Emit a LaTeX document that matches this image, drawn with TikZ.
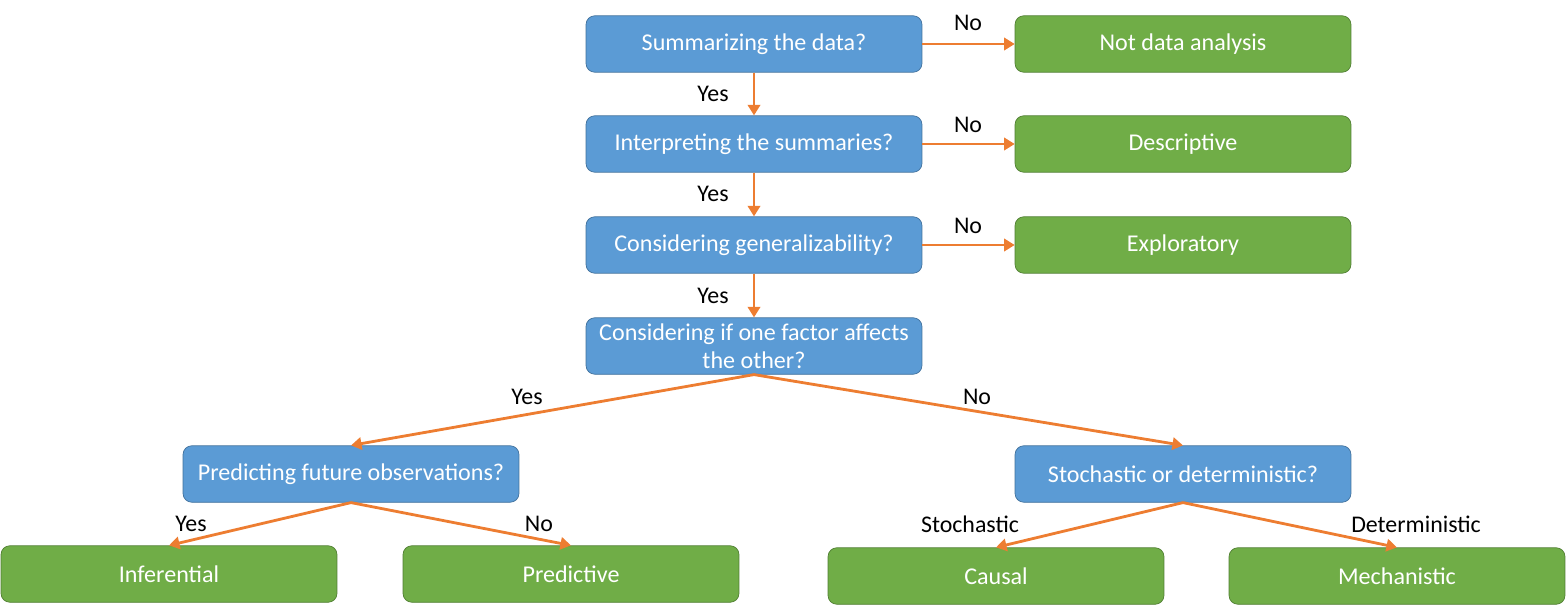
\documentclass[tikz,border=0pt]{standalone}
\usepackage{fontspec}
\setmainfont{Carlito}
\definecolor{qblue}{HTML}{5B9BD5}
\definecolor{qedge}{HTML}{41719C}
\definecolor{agreen}{HTML}{70AD47}
\definecolor{aedge}{HTML}{507E32}
\definecolor{flow}{HTML}{ED7D31}
\usetikzlibrary{positioning, arrows.meta}

\begin{document}
\begin{tikzpicture}[
  x=0.02cm, y=-0.02cm,
  question/.style={draw=qedge, fill=qblue, rounded corners=5pt,
                   minimum width=6.72cm, minimum height=1.13cm, align=center,
                   text=white, font=\fontsize{13.7}{16}\selectfont, inner sep=2pt},
  answer/.style={question, draw=aedge, fill=agreen},
  blabel/.style={font=\fontsize{13.6}{15}\selectfont, text=black, inner sep=0pt},
  link/.style={draw=flow, line width=1.6pt, -{Triangle[width=7pt,length=6pt]}},
]
\useasboundingbox (0,0) rectangle (1567,605);

\node[question] (summ) at (754,44) {Summarizing the data?};
\node[question] (interp) at (754,144) {Interpreting the summaries?};
\node[question] (gener) at (754,245) {Considering generalizability?};
\node[question] (affect) at (754,346) {Considering if one factor affects\\the other?};
\node[question] (predq) at (351,474) {Predicting future observations?};
\node[question] (stoch) at (1183,474) {Stochastic or deterministic?};

\node[answer] (notda) at (1183,44) {Not data analysis};
\node[answer] (descr) at (1183,144) {Descriptive};
\node[answer] (explo) at (1183,245) {Exploratory};
\node[answer] (infer) at (169,574) {Inferential};
\node[answer] (predi) at (571,574) {Predictive};
\node[answer] (causal) at (996,576) {Causal};
\node[answer] (mecha) at (1397,576) {Mechanistic};

\draw[link] (summ) -- (notda);
\draw[link] (interp) -- (descr);
\draw[link] (gener) -- (explo);
\draw[link] (summ) -- (interp);
\draw[link] (interp) -- (gener);
\draw[link] (gener) -- (affect);
\draw[link] (affect.south) -- (predq.north);
\draw[link] (affect.south) -- (stoch.north);
\draw[link] (predq.south) -- (infer.north);
\draw[link] (predq.south) -- (predi.north);
\draw[link] (stoch.south) -- (causal.north);
\draw[link] (stoch.south) -- (mecha.north);

\node[blabel] (no1) at (968,23) {No};
\node[blabel] (no2) at (968,125) {No};
\node[blabel] (no3) at (968,226) {No};
\node[blabel] (yes1) at (713,94) {Yes};
\node[blabel] (yes2) at (713,194) {Yes};
\node[blabel] (yes3) at (713,296) {Yes};
\node[blabel] (yes4) at (527,397) {Yes};
\node[blabel] (no4) at (977,397) {No};
\node[blabel] (yes5) at (191,524) {Yes};
\node[blabel] (no5) at (539,524) {No};
\node[blabel] (stlab) at (970,524) {Stochastic};
\node[blabel] (delab) at (1416,524) {Deterministic};
\end{tikzpicture}
\end{document}
